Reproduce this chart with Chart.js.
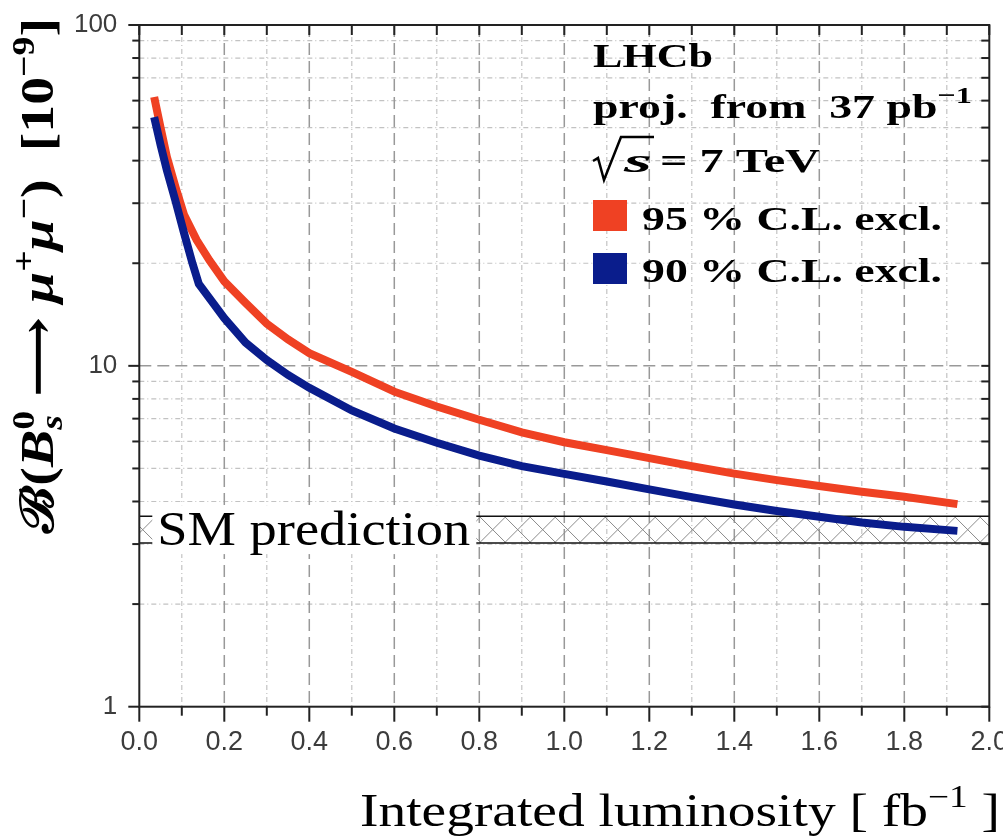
<!DOCTYPE html>
<html lang="en">
  <head>
    <meta charset="UTF-8" />
    <title>LHCb B_s -> mu mu projected limits</title>
    <script src="https://cdn.jsdelivr.net/npm/chart.js"></script>
    <style>
      html, body { margin: 0; padding: 0; background: #fff; }
      #limitChart { display: block; }
    </style>
  </head>
  <body>
    <canvas id="limitChart" width="1003" height="837"></canvas>

    <script>
      // projected upper limits vs integrated luminosity (fb^-1), values in 10^-9
      const lumi95 = [0.035, 0.05, 0.065, 0.085, 0.105, 0.135, 0.165, 0.2, 0.25, 0.3, 0.35, 0.4, 0.5, 0.6, 0.7, 0.8, 0.9, 1.0, 1.1, 1.2, 1.3, 1.4, 1.5, 1.6, 1.7, 1.8, 1.925];
      const limit95 = [61.5, 50, 41, 33.5, 27.8, 23.4, 20.4, 17.7, 15.3, 13.3, 11.95, 10.9, 9.6, 8.4, 7.6, 6.95, 6.38, 5.97, 5.66, 5.36, 5.08, 4.83, 4.62, 4.44, 4.27, 4.13, 3.93];
      const lumi90 = [0.035, 0.05, 0.065, 0.085, 0.105, 0.125, 0.14, 0.175, 0.2, 0.25, 0.3, 0.35, 0.4, 0.5, 0.6, 0.7, 0.8, 0.9, 1.0, 1.1, 1.2, 1.3, 1.4, 1.5, 1.6, 1.7, 1.8, 1.925];
      const limit90 = [53.7, 44.5, 37.4, 30.5, 24.6, 20.0, 17.4, 15.2, 13.8, 11.7, 10.4, 9.4, 8.62, 7.4, 6.55, 5.95, 5.45, 5.08, 4.82, 4.58, 4.34, 4.12, 3.92, 3.75, 3.61, 3.47, 3.37, 3.28];
      const smBand = [3.02, 3.62];

      const xTickLabels = ["0.0", "0.2", "0.4", "0.6", "0.8", "1.0", "1.2", "1.4", "1.6", "1.8", "2.0"];
      const xMinorTicks = [0.1, 0.3, 0.5, 0.7, 0.9, 1.1, 1.3, 1.5, 1.7, 1.9];
      const yTickLabels = ["1", "10", "100"];
      const yGridValues = [1, 2, 3, 4, 5, 6, 7, 8, 9, 10, 20, 30, 40, 50, 60, 70, 80, 90, 100];

      const RED = "#ef4123";
      const BLUE = "#0a1d8c";
      const SERIF = '"Liberation Serif", "DejaVu Serif", serif';

      // draw a row of text pieces (sub/superscripts), optionally stretched to a width
      function drawRuns(ctx, runs, x, y, targetW) {
        let w = 0, start = 0;
        runs.forEach((r) => {
          ctx.font = r.f;
          const m = ctx.measureText(r.t).width;
          if (r.stack) { w = Math.max(w, start + m); }
          else { start = w; w += m; }
        });
        const s = targetW ? targetW / w : 1;
        ctx.save();
        ctx.translate(x, y);
        ctx.scale(s, 1);
        ctx.textAlign = "left";
        ctx.textBaseline = "alphabetic";
        let cx = 0;
        start = 0;
        runs.forEach((r) => {
          ctx.font = r.f;
          const m = ctx.measureText(r.t).width;
          if (r.stack) {
            ctx.fillText(r.t, start, r.dy || 0);
            cx = Math.max(cx, start + m);
          } else {
            start = cx;
            ctx.fillText(r.t, cx, r.dy || 0);
            cx += m;
          }
        });
        ctx.restore();
      }

      const decorations = {
        id: "decorations",
        beforeDatasetsDraw(chart) {
          const { ctx, chartArea: a, scales } = chart;
          const x = scales.x, y = scales.y;
          ctx.save();

          // grid
          const line = (x1, y1, x2, y2) => { ctx.beginPath(); ctx.moveTo(x1, y1); ctx.lineTo(x2, y2); ctx.stroke(); };
          ctx.strokeStyle = "#c2c2c2";
          ctx.lineWidth = 1.2;
          ctx.setLineDash([5, 3, 1, 3]);
          xMinorTicks.forEach((v) => { const px = x.getPixelForValue(v); line(px, a.top, px, a.bottom); });
          yGridValues.forEach((v) => {
            if (yTickLabels.includes(String(v))) return;
            const py = y.getPixelForValue(v);
            line(a.left, py, a.right, py);
          });
          ctx.strokeStyle = "#999";
          ctx.lineWidth = 1.5;
          ctx.setLineDash([12, 6]);
          xTickLabels.slice(1, -1).forEach((t) => { const px = x.getPixelForValue(parseFloat(t)); line(px, a.top, px, a.bottom); });
          line(a.left, y.getPixelForValue(10), a.right, y.getPixelForValue(10));
          ctx.setLineDash([]);

          // SM prediction band
          const bTop = y.getPixelForValue(smBand[1]);
          const bBot = y.getPixelForValue(smBand[0]);
          ctx.save();
          ctx.beginPath();
          ctx.rect(a.left, bTop, a.right - a.left, bBot - bTop);
          ctx.clip();
          ctx.strokeStyle = "#8a8a8a";
          ctx.lineWidth = 1;
          const h = bBot - bTop;
          for (let px = a.left - 60; px < a.right + 60; px += 25) {
            line(px, bBot, px + h, bTop);
            line(px, bTop, px + h, bBot);
          }
          ctx.restore();
          ctx.strokeStyle = "#111";
          ctx.lineWidth = 1.5;
          line(a.left, bTop, a.right, bTop);
          line(a.left, bBot, a.right, bBot);

          // label on a white box
          ctx.fillStyle = "#fff";
          ctx.fillRect(a.left + 13, bTop - 11, 324, bBot - bTop + 22);
          ctx.fillStyle = "#000";
          drawRuns(ctx, [{ t: "SM prediction", f: "48px " + SERIF }], a.left + 18, bBot + 2, 313);
          ctx.restore();
        },
        afterDatasetsDraw(chart) {
          const { ctx, chartArea: a, scales } = chart;
          const x = scales.x, y = scales.y;
          const line = (x1, y1, x2, y2) => { ctx.beginPath(); ctx.moveTo(x1, y1); ctx.lineTo(x2, y2); ctx.stroke(); };
          ctx.save();
          ctx.strokeStyle = "#222";
          ctx.lineWidth = 2;
          // ticks
          yGridValues.forEach((v) => {
            const py = y.getPixelForValue(v);
            const major = yTickLabels.includes(String(v));
            line(a.left - (major ? 11 : 7), py, a.left, py);
            line(a.right - 8, py, a.right, py);
          });
          xTickLabels.forEach((t) => {
            const px = x.getPixelForValue(parseFloat(t));
            line(px, a.bottom, px, a.bottom + 15);
            line(px, a.top, px, a.top + 10);
          });
          xMinorTicks.forEach((v) => {
            const px = x.getPixelForValue(v);
            line(px, a.bottom, px, a.bottom + 9);
            line(px, a.top, px, a.top + 10);
          });
          // frame
          ctx.strokeRect(a.left, a.top, a.right - a.left, a.bottom - a.top);
          ctx.restore();
        },
        afterDraw(chart) {
          const { ctx } = chart;
          ctx.save();
          ctx.fillStyle = "#000";

          // legend block
          const B = (s) => "bold " + s + "px " + SERIF;
          drawRuns(ctx, [{ t: "LHCb", f: B(34) }], 593, 67, 120);
          drawRuns(ctx, [{ t: "proj.  from  37 pb", f: B(34) }, { t: "−1", f: B(24), dy: -15 }], 593, 118, 379);
          ctx.strokeStyle = "#000";
          ctx.lineWidth = 2.5;
          ctx.beginPath();
          ctx.moveTo(593, 161); ctx.lineTo(598, 158); ctx.lineTo(604, 180); ctx.lineTo(621, 137); ctx.lineTo(654, 137);
          ctx.stroke();
          drawRuns(ctx, [{ t: "s", f: "bold italic 34px " + SERIF }], 624, 172, 28);
          drawRuns(ctx, [{ t: "= 7 TeV", f: B(34) }], 660, 172, 160);
          ctx.fillStyle = RED;
          ctx.fillRect(593, 200, 34, 31);
          ctx.fillStyle = BLUE;
          ctx.fillRect(593, 253, 34, 31);
          ctx.fillStyle = "#000";
          drawRuns(ctx, [{ t: "95 % C.L. excl.", f: B(34) }], 642, 230, 300);
          drawRuns(ctx, [{ t: "90 % C.L. excl.", f: B(34) }], 642, 282, 300);

          // x axis title
          drawRuns(ctx, [
            { t: "Integrated luminosity [ fb", f: "46px " + SERIF },
            { t: "−1", f: "31px " + SERIF, dy: -19 },
            { t: " ]", f: "46px " + SERIF },
          ], 360, 826, 640);

          // y axis title (rotated)
          ctx.save();
          ctx.translate(53, 533);
          ctx.rotate(-Math.PI / 2);
          drawRuns(ctx, [
            { t: "ℬ(", f: B(46) },
            { t: "B", f: "bold italic 46px " + SERIF },
            { t: "0", f: B(31), dy: -19 },
            { t: "s", f: "bold italic 31px " + SERIF, dy: 9, stack: true },
            { t: " ⟶ ", f: B(46) },
            { t: "μ", f: "bold italic 46px " + SERIF },
            { t: "+", f: B(31), dy: -19 },
            { t: "μ", f: "bold italic 46px " + SERIF },
            { t: "−", f: B(31), dy: -19 },
            { t: ")  [10", f: B(46) },
            { t: "−9", f: B(31), dy: -19 },
            { t: "]", f: B(46) },
          ], 0, 0, 515);
          ctx.restore();
          ctx.restore();
        },
      };

      const ctx = document.getElementById("limitChart").getContext("2d");
      const limitChart = new Chart(ctx, {
        type: "line",
        data: {
          datasets: [
            {
              label: "95 % C.L. excl.",
              data: lumi95.map((v, i) => ({ x: v, y: limit95[i] })),
              borderColor: RED,
              backgroundColor: RED,
              borderWidth: 8,
              pointRadius: 0,
              tension: 0,
              order: 1,
            },
            {
              label: "90 % C.L. excl.",
              data: lumi90.map((v, i) => ({ x: v, y: limit90[i] })),
              borderColor: BLUE,
              backgroundColor: BLUE,
              borderWidth: 8,
              pointRadius: 0,
              tension: 0,
              order: 0,
            },
          ],
        },
        options: {
          responsive: false,
          animation: false,
          devicePixelRatio: 1,
          layout: { padding: { top: 25, right: 13.7, left: 0, bottom: 0 } },
          plugins: { legend: { display: false }, tooltip: { enabled: false } },
          scales: {
            x: {
              type: "linear",
              min: 0,
              max: 2,
              grid: { display: false, drawTicks: false },
              border: { display: false },
              afterBuildTicks: (s) => { s.ticks = xTickLabels.map((t) => ({ value: parseFloat(t) })); },
              afterFit: (s) => { s.height = 130.3; s.paddingLeft = 0; s.paddingRight = 0; },
              ticks: {
                autoSkip: false,
                maxRotation: 0,
                padding: 20,
                color: "#3c3c3c",
                font: { family: "Liberation Sans", size: 27 },
                callback: (v, i) => xTickLabels[i],
              },
            },
            y: {
              type: "logarithmic",
              min: 1,
              max: 100,
              grid: { display: false, drawTicks: false },
              border: { display: false },
              afterBuildTicks: (s) => { s.ticks = yGridValues.map((v) => ({ value: v })); },
              afterFit: (s) => { s.width = 139.3; s.paddingTop = 0; s.paddingBottom = 0; },
              ticks: {
                autoSkip: false,
                padding: 22,
                color: "#3c3c3c",
                font: { family: "Liberation Sans", size: 26 },
                callback: (v) => (yTickLabels.includes(String(v)) ? String(v) : ""),
              },
            },
          },
        },
        plugins: [decorations],
      });
    </script>
  </body>
</html>
